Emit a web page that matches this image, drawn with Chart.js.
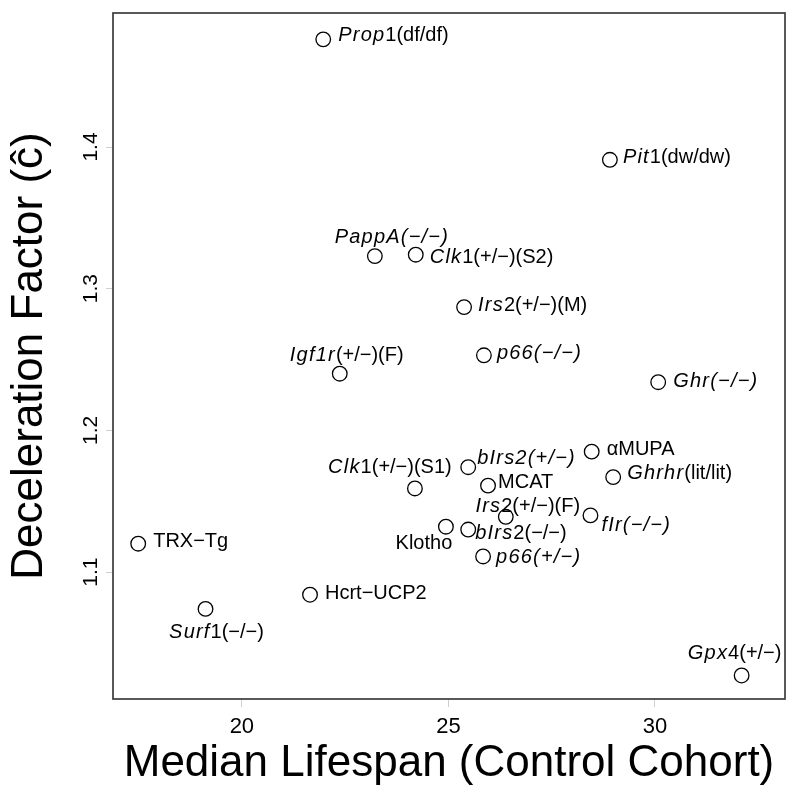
<!DOCTYPE html>
<html><head><meta charset="utf-8">
<script src="https://cdn.jsdelivr.net/npm/chart.js@4.4.1/dist/chart.umd.min.js"></script>
<style>html,body{margin:0;padding:0;background:#fff}#wrap{width:800px;height:800px}</style>
</head><body><div id="wrap"><canvas id="c" width="800" height="800"></canvas></div>
<script>
// ---- data ----
const strainLabels = [
  "*Prop*1(df/df)", "*Pit*1(dw/dw)", "*PappA(−/−)*", "*Clk*1(+/−)(S2)", "*Irs*2(+/−)(M)",
  "*Igf1r*(+/−)(F)", "*p66(−/−)*", "*Ghr(−/−)*", "αMUPA", "*Ghrhr*(lit/lit)",
  "*Clk*1(+/−)(S1)", "*bIrs2(+/−)*", "MCAT", "*Irs*2(+/−)(F)", "*fIr(−/−)*",
  "Klotho", "*bIrs*2(−/−)", "*p66(+/−)*", "TRX−Tg", "Hcrt−UCP2",
  "*Surf*1(−/−)", "*Gpx*4(+/−)"
];
const medianLifespan = [
  21.97, 28.91, 23.22, 24.21, 25.38,
  22.37, 25.86, 30.08, 28.47, 28.99,
  24.19, 25.48, 25.96, 26.39, 28.44,
  24.94, 25.48, 25.84, 17.49, 21.65,
  19.12, 32.10
];
const decelerationFactor = [
  1.476, 1.391, 1.323, 1.324, 1.287,
  1.240, 1.253, 1.234, 1.185, 1.167,
  1.159, 1.174, 1.161, 1.139, 1.140,
  1.132, 1.130, 1.111, 1.120, 1.084,
  1.074, 1.027
];
const xTickValues = [20, 25, 30];
const yTickValues = [1.1, 1.2, 1.3, 1.4];
const xLimits = [16.88, 33.15];
const yLimits = [1.0104, 1.4946];

// ---- label placement (mode: l=left edge, c=centre; dx, dy in px) ----
const labelPlacement = [
  ['l',15,-4],['l',13,-2],['c',17,-19],['l',14,3],['l',14,-2],
  ['c',7,-18],['l',13,-2],['l',15,-1],['l',15,-2],['l',14,-4],
  ['c',-25,-21],['l',9,-9],['l',10,-3],['c',22,-10],['l',11,10],
  ['c',-22,17],['l',7,4],['l',13,1],['l',15,-2],['l',15,-1],
  ['c',11,24],['c',-7,-22]
];

const FAM = '"Liberation Sans", Arial, Helvetica, sans-serif';
const LFS = 20, ISP = 1.2;

function parseRich(s){
  const segs=[]; let it=false, buf='';
  for (const ch of s){
    if (ch==='*'){ if(buf) segs.push({t:buf,i:it}); buf=''; it=!it; }
    else buf+=ch;
  }
  if (buf) segs.push({t:buf,i:it});
  return segs;
}
function setFont(ctx,it){ ctx.font=(it?'italic ':'')+LFS+'px '+FAM; }
function segW(ctx,seg){
  setFont(ctx,seg.i);
  if(!seg.i) return ctx.measureText(seg.t).width;
  let w=0; for(const ch of seg.t) w+=ctx.measureText(ch).width+ISP; return w;
}
function drawRich(ctx,s,x,y,mode){
  const segs=parseRich(s);
  const total=segs.reduce((a,g)=>a+segW(ctx,g),0);
  let cx = mode==='c' ? x-total/2 : x;
  ctx.textBaseline='middle'; ctx.textAlign='left'; ctx.fillStyle='#000';
  for(const g of segs){
    setFont(ctx,g.i);
    if(!g.i){ ctx.fillText(g.t,cx,y); cx+=ctx.measureText(g.t).width; }
    else { for(const ch of g.t){ ctx.fillText(ch,cx,y); cx+=ctx.measureText(ch).width+ISP; } }
  }
}

const frame = {
  id:'frame',
  beforeDatasetsDraw(chart){
    const {ctx, chartArea:a} = chart;
    ctx.save(); ctx.strokeStyle='#3c3c3c'; ctx.lineWidth=1.7;
    ctx.strokeRect(a.left, a.top, a.right-a.left, a.bottom-a.top);
    ctx.restore();
  },
  afterDraw(chart){
    const ctx=chart.ctx, ys=chart.scales.y, xs=chart.scales.x;
    ctx.save();
    ctx.fillStyle='#000'; ctx.font='21px '+FAM; ctx.textAlign='center'; ctx.textBaseline='alphabetic';
    for(const v of yTickValues){
      const py=ys.getPixelForValue(v);
      ctx.save(); ctx.translate(97,py); ctx.rotate(-Math.PI/2); ctx.fillText(v.toFixed(1),0,0); ctx.restore();
    }
    strainLabels.forEach((lab,i)=>{
      const p=labelPlacement[i];
      const px=xs.getPixelForValue(medianLifespan[i]);
      const py=ys.getPixelForValue(decelerationFactor[i]);
      drawRich(ctx,lab,px+p[1],py+p[2],p[0]);
    });
    ctx.restore();
  }
};

new Chart(document.getElementById('c'), {
  type:'scatter',
  data:{ datasets:[{
    data: medianLifespan.map((x,i)=>({x, y:decelerationFactor[i]})),
    pointRadius:7.3, pointHoverRadius:7.3, pointBorderWidth:1.3,
    pointBorderColor:'#000', pointBackgroundColor:'rgba(0,0,0,0)', showLine:false
  }]},
  options:{
    responsive:false, animation:false, devicePixelRatio:1,
    layout:{ padding:{ top:13, right:15, left:0, bottom:0 } },
    plugins:{ legend:{display:false}, tooltip:{enabled:false} },
    scales:{
      x:{ type:'linear', position:'bottom', min:xLimits[0], max:xLimits[1],
        afterBuildTicks:s=>{ s.ticks=xTickValues.map(v=>({value:v})); },
        afterFit:s=>{ s.height=101; },
        grid:{ drawOnChartArea:false, drawTicks:true, tickLength:8, color:'#cfcfcf', lineWidth:1 },
        border:{ display:false },
        ticks:{ font:{family:FAM,size:22}, color:'#000', padding:7, autoSkip:false, maxRotation:0, minRotation:0 },
        title:{ display:true, text:'Median Lifespan (Control Cohort)', color:'#000',
          font:{family:FAM,size:44}, padding:{top:0,bottom:10} }
      },
      y:{ type:'linear', position:'left', min:yLimits[0], max:yLimits[1],
        afterBuildTicks:s=>{ s.ticks=yTickValues.map(v=>({value:v})); },
        afterFit:s=>{ s.width=113; },
        grid:{ drawOnChartArea:false, drawTicks:true, tickLength:7, color:'#cfcfcf', lineWidth:1 },
        border:{ display:false },
        ticks:{ display:false },
        title:{ display:true, text:'Deceleration Factor (ĉ)', color:'#000',
          font:{family:FAM,size:44}, padding:{top:3,bottom:0} }
      }
    }
  },
  plugins:[frame]
});
</script></body></html>
